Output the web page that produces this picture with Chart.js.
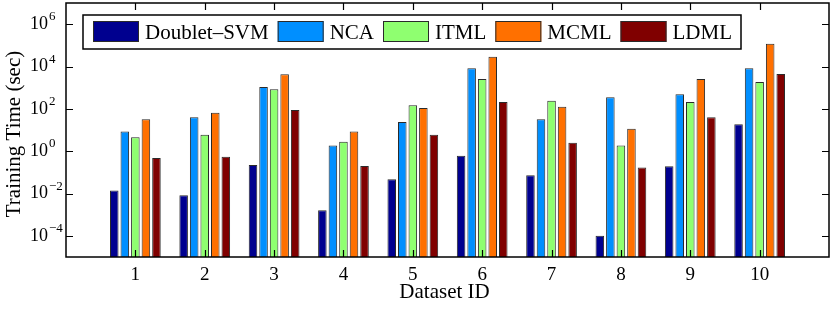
<!DOCTYPE html>
<html>
<head>
<meta charset="utf-8">
<script src="https://cdn.jsdelivr.net/npm/chart.js@4"></script>
<style>
  html, body { margin: 0; padding: 0; background: #fff; }
  #wrap { width: 830px; height: 309px; }
</style>
</head>
<body>
<div id="wrap"><canvas id="c" width="830" height="309"></canvas></div>
<script>
// data (training time in seconds, log axis)
const datasetIds = [1, 2, 3, 4, 5, 6, 7, 8, 9, 10];
const methods = ["Doublet–SVM", "NCA", "ITML", "MCML", "LDML"];
const doubletSvm = [0.014, 0.0082, 0.22, 0.0016, 0.047, 0.60, 0.073, 0.0001, 0.195, 18.5];
const nca = [8.6, 40, 1080, 1.87, 24, 8300, 32, 350, 490, 8300];
const itml = [4.6, 5.9, 840, 2.8, 147, 2580, 240, 1.87, 210, 1860];
const mcml = [32, 66, 4300, 8.6, 109, 28500, 126, 11.4, 2580, 118000];
const ldml = [0.48, 0.54, 88, 0.20, 5.9, 210, 2.5, 0.17, 40, 4450];
const yTickPowers = [-4, -2, 0, 2, 4, 6];
const colors = ["#00008f", "#008fff", "#8fff70", "#ff7000", "#800000"];

const SERIF = "'Liberation Serif', 'Times New Roman', serif";
const series = [doubletSvm, nca, itml, mcml, ldml];

const datasets = series.map((vals, i) => ({
  label: methods[i],
  data: vals.map((v, j) => ({ x: datasetIds[j], y: v })),
  backgroundColor: colors[i],
  borderColor: "#2a2a2a",
  borderWidth: 1,
  categoryPercentage: 0.76,
  barPercentage: 0.81
}));

// matlab-ish axes box, inward ticks, labels and legend
const decor = {
  id: "decor",
  afterDraw(chart) {
    const ctx = chart.ctx, a = chart.chartArea;
    const xs = chart.scales.x, ys = chart.scales.y;
    ctx.save();
    ctx.strokeStyle = "#000";
    ctx.fillStyle = "#000";

    // ticks
    ctx.lineWidth = 1.2;
    ctx.beginPath();
    datasetIds.forEach(id => {
      const px = Math.round(xs.getPixelForValue(id)) + 0.5;
      ctx.moveTo(px, a.bottom); ctx.lineTo(px, a.bottom - 7);
      ctx.moveTo(px, a.top); ctx.lineTo(px, a.top + 7);
    });
    yTickPowers.forEach(p => {
      const py = Math.round(ys.getPixelForValue(Math.pow(10, p))) + 0.5;
      ctx.moveTo(a.left, py); ctx.lineTo(a.left + 7, py);
      ctx.moveTo(a.right, py); ctx.lineTo(a.right - 7, py);
    });
    ctx.stroke();

    // box
    ctx.lineWidth = 1.5;
    ctx.strokeRect(a.left, a.top, a.right - a.left, a.bottom - a.top);

    // x tick labels
    ctx.font = "19px " + SERIF;
    ctx.textAlign = "center";
    ctx.textBaseline = "alphabetic";
    datasetIds.forEach(id => ctx.fillText(String(id), xs.getPixelForValue(id), 280));

    // y tick labels 10^p
    yTickPowers.forEach(p => {
      const py = ys.getPixelForValue(Math.pow(10, p));
      ctx.font = "18px " + SERIF;
      ctx.textAlign = "left";
      ctx.textBaseline = "middle";
      const bx = a.left - 36;
      ctx.fillText("10", bx, py);
      const w = ctx.measureText("10").width;
      ctx.font = "13px " + SERIF;
      ctx.textBaseline = "alphabetic";
      ctx.fillText(p < 0 ? "−" + (-p) : String(p), bx + w + 1, py - 4);
    });

    // axis titles
    ctx.font = "21px " + SERIF;
    ctx.textAlign = "center";
    ctx.textBaseline = "alphabetic";
    ctx.fillText("Dataset ID", (a.left + a.right) / 2 - 3, 298);
    ctx.save();
    ctx.translate(20, 134);
    ctx.rotate(-Math.PI / 2);
    ctx.fillText("Training Time (sec)", 0, 0);
    ctx.restore();

    // legend
    const lx = a.left + 17, ly = 15, lh = 34;
    ctx.font = "21px " + SERIF;
    ctx.textAlign = "left";
    ctx.textBaseline = "middle";
    let cx = lx + 10;
    chart.data.datasets.forEach(ds => {
      ctx.fillStyle = ds.backgroundColor;
      ctx.fillRect(cx, ly + 6, 46, 21);
      ctx.lineWidth = 1;
      ctx.strokeStyle = "#2a2a2a";
      ctx.strokeRect(cx + 0.5, ly + 6.5, 45, 20);
      ctx.fillStyle = "#000";
      ctx.fillText(ds.label, cx + 52, ly + lh / 2 + 1);
      cx += 52 + ctx.measureText(ds.label).width + 9;
    });
    ctx.lineWidth = 1.5;
    ctx.strokeStyle = "#000";
    ctx.strokeRect(lx, ly, cx - lx, lh);
    ctx.restore();
  }
};

new Chart(document.getElementById("c"), {
  type: "bar",
  data: { datasets },
  options: {
    responsive: false,
    animation: false,
    devicePixelRatio: 1,
    layout: { padding: { left: 66, top: 3, right: 1, bottom: 52 } },
    plugins: { legend: { display: false }, tooltip: { enabled: false } },
    scales: {
      x: { type: "linear", min: 0, max: 11, display: false, offset: false },
      y: { type: "logarithmic", min: 1e-5, max: 1e7, display: false }
    }
  },
  plugins: [decor]
});
</script>
</body>
</html>
